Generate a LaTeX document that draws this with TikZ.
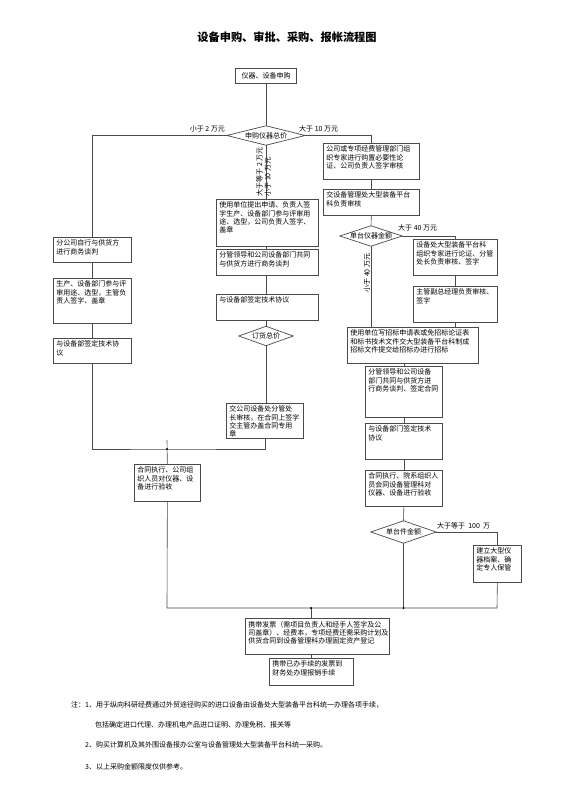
\documentclass[tikz,border=0pt]{standalone}
\usepackage{fontspec}
\setmainfont{Noto Sans CJK SC}
\usetikzlibrary{calc}
\definecolor{ln}{HTML}{4A4A4A}
\tikzset{
  boxst/.style={draw=ln, line width=0.7pt, rectangle, inner sep=0pt},
  txt/.style={inner sep=0pt, align=left, font=\fontsize{7}{8.3}\selectfont},
  lbl/.style={inner sep=0pt, font=\fontsize{7}{8.3}\selectfont},
  dtext/.style={inner sep=0pt, font=\fontsize{7}{8.3}\selectfont},
  conn/.style={draw=ln, line width=0.6pt},
  jdot/.style={fill=black, circle, inner sep=0pt, minimum size=2.2pt}
}
\newcommand\mybox[6]{%
  \node[boxst, minimum width=#4pt, minimum height=#5pt, anchor=north west] (#1) at (#2,#3) {};
  \node[txt, anchor=north west] (#1t) at ([xshift=3.2pt,yshift=-2.8pt]#1.north west) {#6};
}
\newcommand\mydiam[5]{% name x y w h ; text after
  \node[dtext, minimum width=#4pt, minimum height=#5pt] (#1) at (#2,#3)
}
\begin{document}
\begin{tikzpicture}[x=1pt,y=-1pt]
\useasboundingbox[fill=white] (0,0) rectangle (560,792);

% title
\node[inner sep=0pt, font=\fontsize{11.2}{13}\selectfont\bfseries] (title) at (287,37) {设备申购、审批、采购、报帐流程图};

% start
\node[boxst, minimum width=61pt, minimum height=15pt, font=\fontsize{7}{8.3}\selectfont] (n1) at (266,75.5) {仪器、设备申购};

% diamonds
\mydiam{d1}{266}{135.5}{78}{19} {申购仪器总价};
\mydiam{d2}{266}{336}{54}{19} {订货总价};
\mydiam{d3}{371}{236}{62}{20} {单台仪器金额};
\mydiam{d4}{403.5}{532}{65}{22} {单台件金额};
\foreach \d in {d1,d2,d3,d4}{
  \draw[conn, line width=0.7pt] (\d.west) -- (\d.north) -- (\d.east) -- (\d.south) -- cycle;
}

% left column
\mybox{L1}{53}{237}{78}{25}{分公司自行与供货方\\进行商务谈判}
\mybox{L2}{53}{278}{78}{45}{生产、设备部门参与评\\审用途、选型，主管负\\责人签字、盖章}
\mybox{L3}{53}{338}{78}{25}{与设备部签定技术协\\议}

% middle column
\mybox{M1}{216}{199}{102}{47}{使用单位提出申请、负责人签\\字生产、设备部门参与评审用\\途、选型，公司负责人签字、\\盖章}
\mybox{M2}{216}{249}{102}{26}{分管领导和公司设备部门共同\\与供货方进行商务谈判}
\mybox{M3}{216}{294}{102}{26}{与设备部签定技术协议}
\mybox{M4}{226}{403}{77}{35}{交公司设备处分管处\\长审核，在合同上签字\\交主管办盖合同专用\\章}
\mybox{C1}{134}{464}{66}{37}{合同执行、公司组\\织人员对仪器、设\\备进行验收}

% right column
\mybox{R1}{323}{143}{96}{36}{公司或专项经费管理部门组\\织专家进行购置必要性论\\证、公司负责人签字审核}
\mybox{R2}{323}{189}{96}{26}{交设备管理处大型装备平台\\科负责审核}
\mybox{R3}{413}{239}{84}{36}{设备处大型装备平台科\\组织专家进行论证、分管\\处长负责审核、签字}
\mybox{R4}{413}{286}{84}{36}{主管副总经理负责审核、\\签字}
\mybox{R5}{347}{327}{131}{36}{使用单位写招标申请表或免招标论证表\\和标书技术文件交大型装备平台科制成\\招标文件提交给招标办进行招标}
\mybox{R6}{365}{366}{77}{51}{分管领导和公司设备\\部门共同与供货方进\\行商务谈判、签定合同}
\mybox{R7}{365}{423}{77}{36}{与设备部门签定技术\\协议}
\mybox{R8}{365}{470}{77}{36}{合同执行、院系组织人\\员会同设备管理科对\\仪器、设备进行验收}
\mybox{R9}{473}{545}{48}{37}{建立大型仪\\器档案、确\\定专人保管}

% bottom
\mybox{F1}{245}{618}{144}{36}{携带发票（需项目负责人和经手人签字及公\\司盖章）、经费本，专项经费还需采购计划及\\供货合同到设备管理科办理固定资产登记}
\mybox{F2}{269}{658}{84}{27}{携带已办手续的发票到\\财务处办理报销手续}

% junction coordinates
\coordinate (j1) at (167,449);
\coordinate (j1top) at (167,440);
\coordinate (j2) at (167,608);
\coordinate (j3) at (311,608);
\coordinate (j4) at (403.5,608);
\coordinate (j5) at (497,608);

% connectors
\draw[conn] (n1.south) -- (d1.north);
\draw[conn] (d1.west) -| (L1.north);
\draw[conn] (d1.east) -| (R1.north);
\draw[conn] (d1.south) -- (d1.south |- M1.north);
\draw[conn] (M1.south -| d1.south) -- (M2.north -| d1.south);
\draw[conn] (M2.south -| d1.south) -- (M3.north -| d1.south);
\draw[conn] (M3.south -| d1.south) -- (d2.north);
\draw[conn] (d2.south) -- (d2.south |- M4.north);
\draw[conn] (L1.south) -- (L2.north);
\draw[conn] (L2.south) -- (L3.north);
\draw[conn] (L3.south) |- (j1) -| (M4.south);
\draw[conn] (j1top) -- (C1.north);
\draw[conn] (C1.south) -- (j2) -- (j5);
\draw[conn] (R1.south) -- (R2.north);
\draw[conn] (R2.south) -- (d3.north);
\draw[conn] (d3.east) -| (R3.north);
\draw[conn] (R3.south) -- (R4.north);
\draw[conn] (R4.south) -- (R4.south |- R5.north);
\draw[conn] (d3.south) -- (d3.south |- R5.north);
\draw[conn] (R5.south -| R6.north) -- (R6.north);
\draw[conn] (R6.south) -- (R7.north);
\draw[conn] (R7.south) -- (R8.north);
\draw[conn] (R8.south) -- (d4.north);
\draw[conn] (d4.east) -| (R9.north);
\draw[conn] (d4.south) -- (j4);
\draw[conn] (R9.south) -- (j5);
\draw[conn] (j3) -- (j3 |- F1.north);
\draw[conn] (F2.north |- F1.south) -- (F2.north);
\node[jdot] at (j1) {};
\node[jdot] at (j3) {};
\node[jdot] at (j4) {};

% labels
\node[lbl, anchor=east] (lb1) at (225,129) {小于 2 万元};
\node[lbl, anchor=west] (lb2) at (299,129) {大于 10 万元};
\node[lbl, rotate=90, align=left] (lb3) at (263.5,172) {大于等于 2 万元\\小于 10 万元};
\node[lbl, anchor=west] (lb4) at (398,228) {大于 40 万元};
\node[lbl, rotate=90] (lb5) at (367,273) {小于 40 万元};
\node[lbl, anchor=west] (lb6) at (437,526) {大于等于\ \ 100\ \ 万};

% notes
\node[lbl, anchor=west] (nt1) at (71,705) {注：1、用于纵向科研经费通过外贸途径购买的进口设备由设备处大型装备平台科统一办理各项手续，};
\node[lbl, anchor=west] (nt2) at (95,725) {包括确定进口代理、办理机电产品进口证明、办理免税、报关等};
\node[lbl, anchor=west] (nt3) at (85,745) {2、购买计算机及其外围设备报办公室与设备管理处大型装备平台科统一采购。};
\node[lbl, anchor=west] (nt4) at (85,767) {3、以上采购金额限度仅供参考。};
\end{tikzpicture}
\end{document}
